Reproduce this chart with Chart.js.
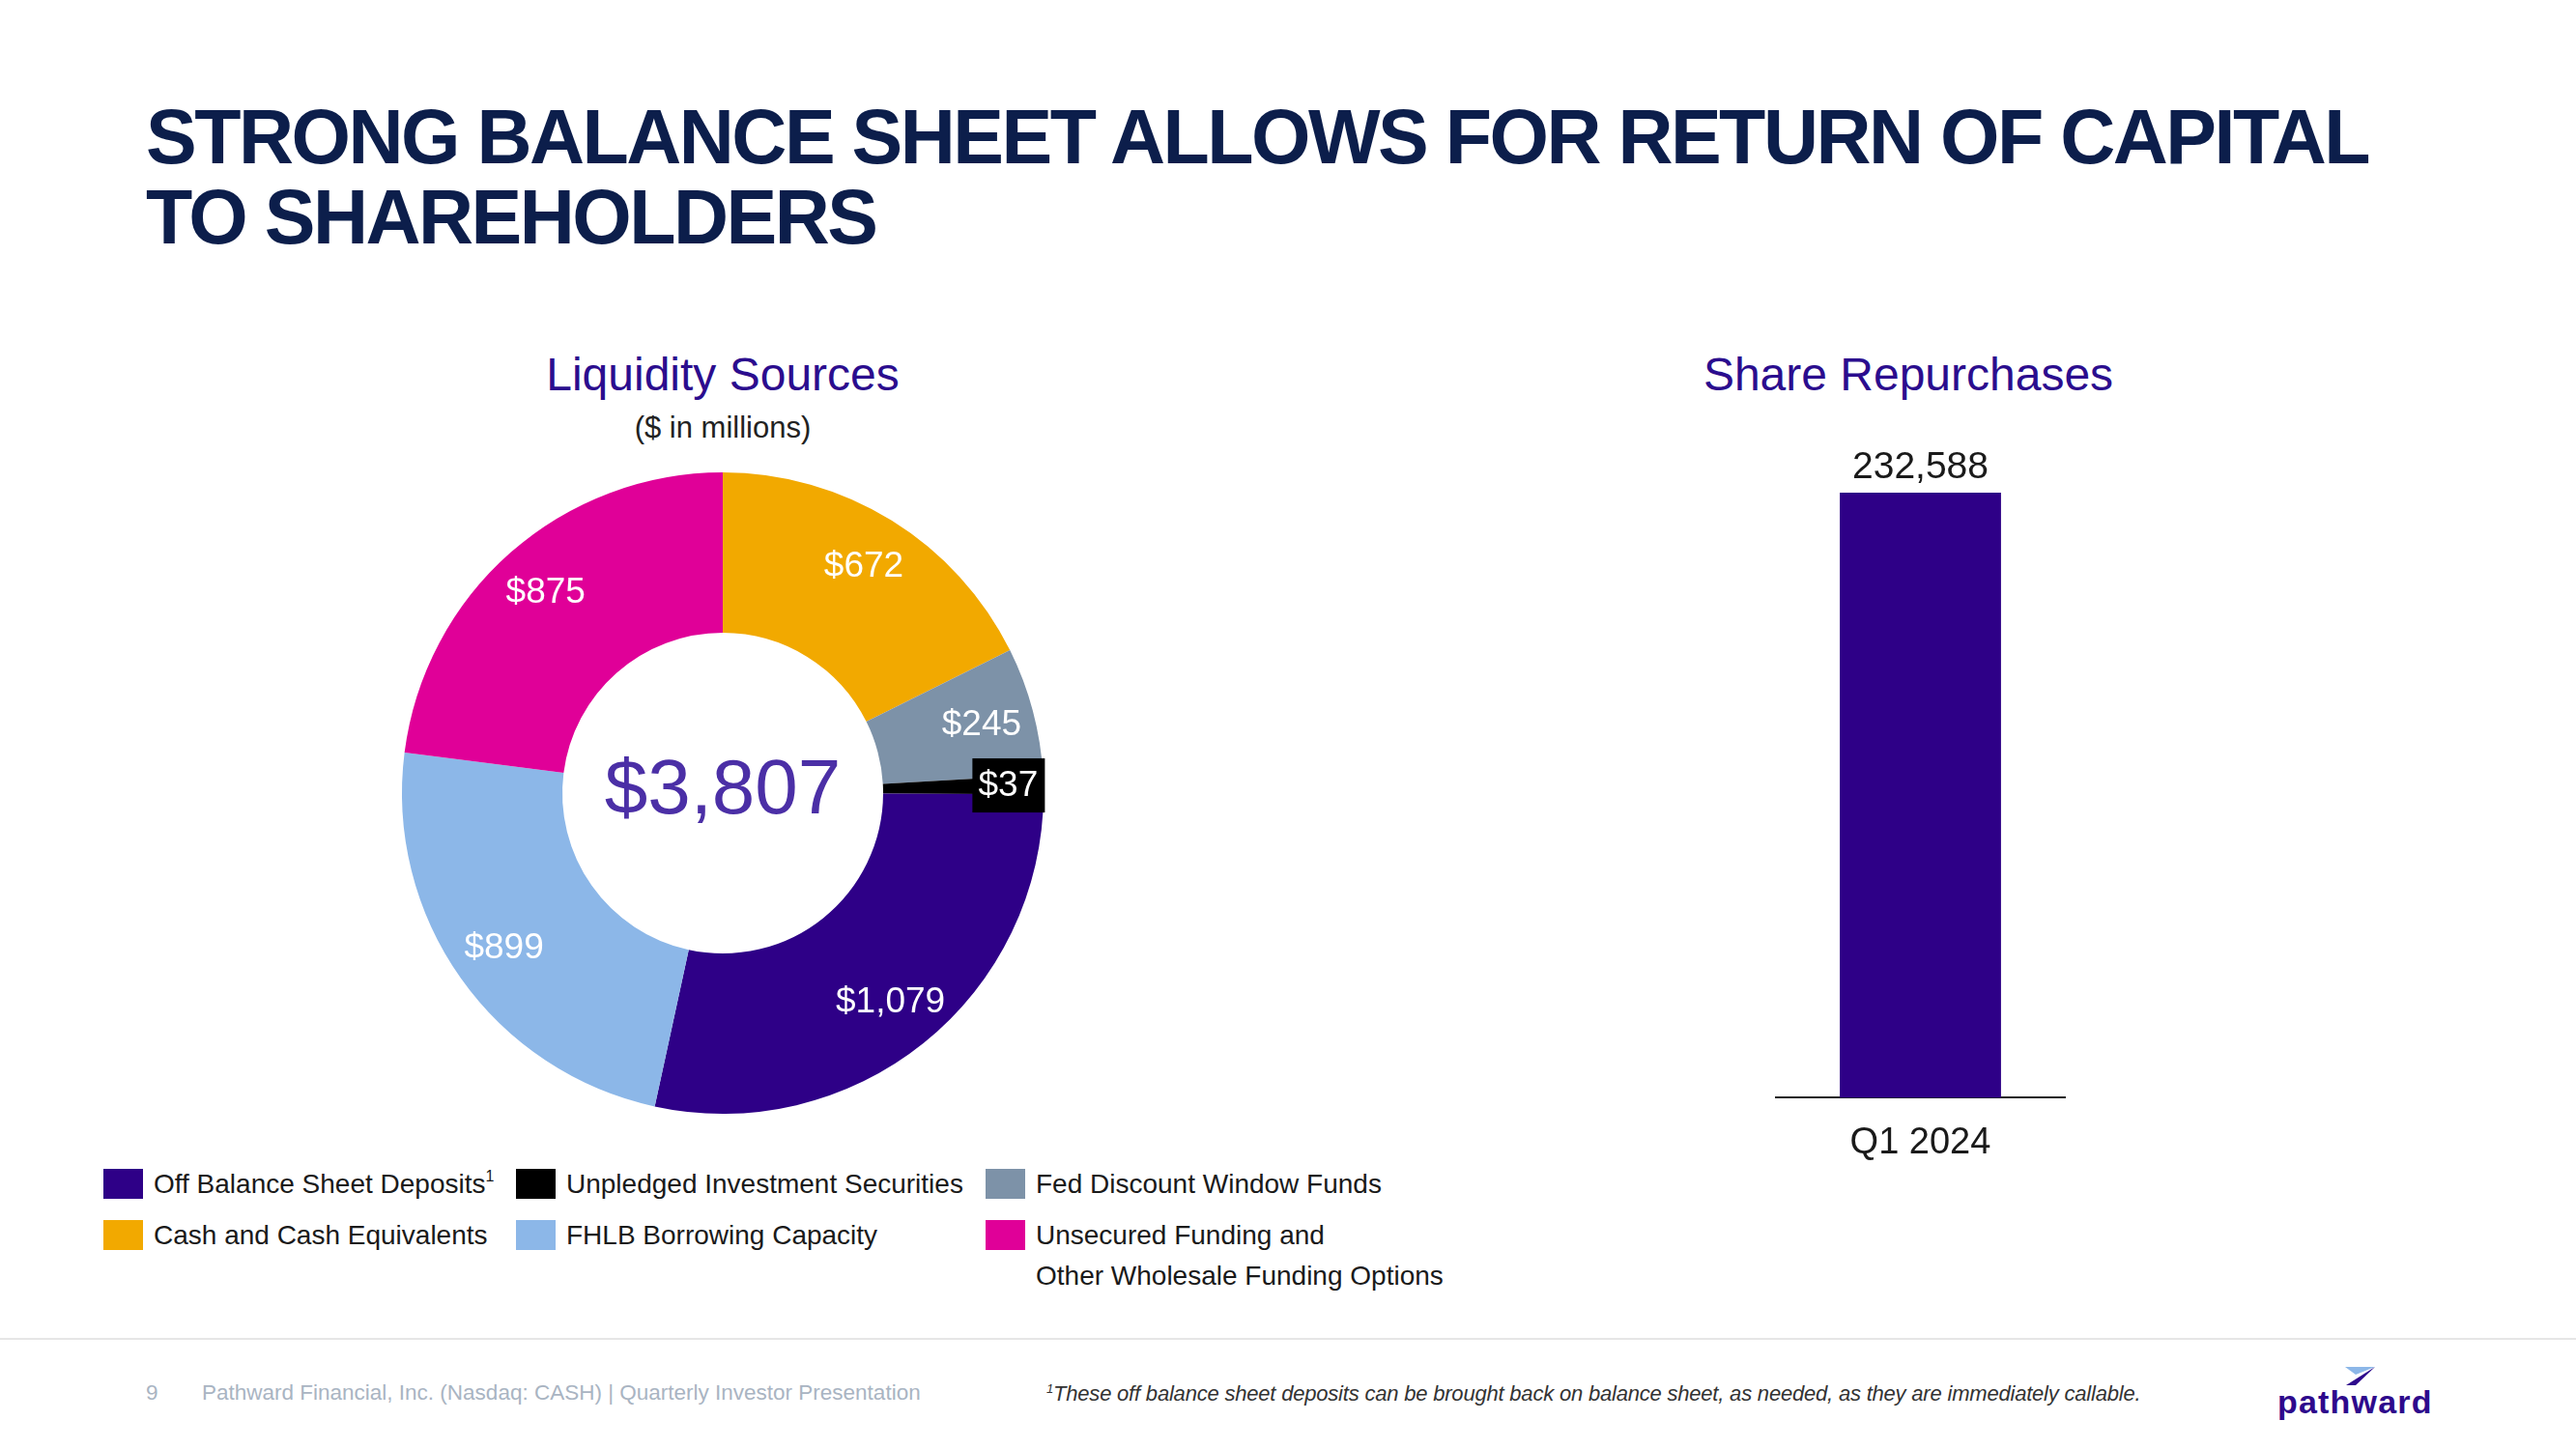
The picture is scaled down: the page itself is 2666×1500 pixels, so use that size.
<!DOCTYPE html>
<html lang="en">
<head>
  <meta charset="UTF-8" />
  <title>Strong Balance Sheet</title>
  <script src="https://cdn.jsdelivr.net/npm/chart.js"></script>
  <style>
    html, body { margin: 0; padding: 0; background: #fff; }
    body { width: 2666px; height: 1500px; position: relative; overflow: hidden;
           font-family: "Liberation Sans", Arial, Helvetica, sans-serif; }
    .abs { position: absolute; white-space: nowrap; }
    .title { left: 151px; top: 100px; font-size: 79px; line-height: 83px; font-weight: bold;
             color: #0c1e4b; letter-spacing: -2.5px; }
    .sub { width: 800px; text-align: center; line-height: 1; color: #2b0d8e; font-size: 48px; }
    .units { width: 800px; text-align: center; line-height: 1; color: #222; font-size: 31px; }
    #legend { position: absolute; left: 107px; top: 1205px; display: grid;
              grid-template-columns: 427px 486px 600px; row-gap: 11px; }
    .item { display: flex; align-items: flex-start; }
    .swatch { width: 41px; height: 31px; margin-top: 5px; margin-right: 11px; flex: none; }
    .ltext { font-size: 28px; line-height: 42px; color: #1a1a1a; white-space: pre-line; }
    .ltext sup { font-size: 16px; line-height: 0; vertical-align: 12px; }
    .rule { position: absolute; left: 0; top: 1385px; width: 2666px; height: 2px; background: #e6e6e6; }
    .foot { font-size: 22.5px; line-height: 1; color: #a9b4c2; }
    .note { font-size: 22px; line-height: 1; color: #333; font-style: italic; letter-spacing: -0.2px; }
    .logo { font-size: 34px; line-height: 1; color: #2e0a8c; font-weight: bold; letter-spacing: 1.2px; }
  </style>
</head>
<body>
  <div class="abs title">STRONG BALANCE SHEET ALLOWS FOR RETURN OF CAPITAL<br>TO SHAREHOLDERS</div>

  <div class="abs sub" style="left:348px; top:364px;">Liquidity Sources</div>
  <div class="abs units" style="left:348px; top:427px;">($ in millions)</div>
  <div class="abs sub" style="left:1575px; top:364px;">Share Repurchases</div>

  <canvas id="donut" class="abs" width="700" height="700" style="left:398px; top:471px;"></canvas>
  <canvas id="bars" class="abs" width="400" height="810" style="left:1788px; top:420px;"></canvas>

  <div id="legend"></div>

  <div class="rule"></div>
  <div class="abs foot" style="left:151px; top:1431px;">9</div>
  <div class="abs foot" style="left:209px; top:1431px;">Pathward Financial, Inc. (Nasdaq: CASH) | Quarterly Investor Presentation</div>
  <div class="abs note" style="left:1083px; top:1431px;"><sup style="font-size:13px;">1</sup>These off balance sheet deposits can be brought back on balance sheet, as needed, as they are immediately callable.</div>
  <svg class="abs" style="left:2420px; top:1410px;" width="45" height="28">
    <polygon points="7,5 38,5 18,13" fill="#8cb7e8" />
    <polygon points="38,5 8,24 18,24" fill="#2e0a8c" />
  </svg>
  <div class="abs logo" style="left:2357px; top:1434px;">pathward</div>

  <script>
    // liquidity sources, $ in millions, clockwise from 12 o'clock
    const sourceLabels = [
      'Cash and Cash Equivalents',
      'Fed Discount Window Funds',
      'Unpledged Investment Securities',
      'Off Balance Sheet Deposits',
      'FHLB Borrowing Capacity',
      'Unsecured Funding and\nOther Wholesale Funding Options'
    ];
    const sourceValues = [672, 245, 37, 1079, 899, 875];
    const sourceColors = ['#f2a900', '#7d92a8', '#000000', '#2e0087', '#8cb7e8', '#e00098'];
    const sourceNotes = ['', '', '', '1', '', ''];
    // legend reads row by row in this order
    const legendOrder = [3, 2, 1, 0, 4, 5];

    // share repurchases
    const quarters = ['Q1 2024'];
    const sharesRepurchased = [232588];

    const fmt = (v) => v.toLocaleString('en-US');
    const FONT = '"Liberation Sans", Arial, sans-serif';

    // legend
    const legendEl = document.getElementById('legend');
    legendOrder.forEach((i) => {
      const item = document.createElement('div');
      item.className = 'item';
      const sw = document.createElement('div');
      sw.className = 'swatch';
      sw.style.background = sourceColors[i];
      const txt = document.createElement('div');
      txt.className = 'ltext';
      txt.textContent = sourceLabels[i];
      if (sourceNotes[i]) {
        const s = document.createElement('sup');
        s.textContent = sourceNotes[i];
        txt.appendChild(s);
      }
      item.appendChild(sw);
      item.appendChild(txt);
      legendEl.appendChild(item);
    });

    const donutLabels = {
      id: 'donutLabels',
      afterDatasetsDraw(chart) {
        const ctx = chart.ctx;
        const meta = chart.getDatasetMeta(0);
        const total = sourceValues.reduce((a, b) => a + b, 0);
        ctx.save();
        ctx.textAlign = 'center';
        ctx.textBaseline = 'middle';
        meta.data.forEach((arc, i) => {
          const p = arc.getProps(['x', 'y', 'startAngle', 'endAngle', 'innerRadius', 'outerRadius'], true);
          const mid = (p.startAngle + p.endAngle) / 2;
          const small = sourceValues[i] / total < 0.02;
          const r = p.innerRadius + (p.outerRadius - p.innerRadius) * (small ? 0.78 : 0.67);
          const x = p.x + r * Math.cos(mid);
          const y = p.y + r * Math.sin(mid);
          const text = '$' + fmt(sourceValues[i]);
          ctx.font = '37px ' + FONT;
          if (small) {
            ctx.fillStyle = '#000';
            ctx.fillRect(x - 37, y - 28, 75, 56);
          }
          ctx.fillStyle = '#fff';
          ctx.fillText(text, x, y + 1);
        });
        // total in the hole
        const c = meta.data[0];
        ctx.font = '80px ' + FONT;
        ctx.fillStyle = '#4b2fa6';
        ctx.fillText('$' + fmt(total), c.x, c.y - 1);
        ctx.restore();
      }
    };

    new Chart(document.getElementById('donut'), {
      type: 'doughnut',
      data: {
        labels: sourceLabels,
        datasets: [{
          data: sourceValues,
          backgroundColor: sourceColors,
          borderWidth: 0
        }]
      },
      options: {
        responsive: false,
        animation: false,
        cutout: '50%',
        layout: { padding: 18 },
        plugins: {
          legend: { display: false },
          tooltip: { enabled: false }
        }
      },
      plugins: [donutLabels]
    });

    const barLabels = {
      id: 'barLabels',
      afterDatasetsDraw(chart) {
        const ctx = chart.ctx;
        ctx.save();
        ctx.font = '39px ' + FONT;
        ctx.fillStyle = '#1a1a1a';
        ctx.textAlign = 'center';
        ctx.textBaseline = 'alphabetic';
        chart.getDatasetMeta(0).data.forEach((bar, i) => {
          ctx.fillText(fmt(sharesRepurchased[i]), bar.x, bar.y - 15);
        });
        ctx.restore();
      }
    };

    new Chart(document.getElementById('bars'), {
      type: 'bar',
      data: {
        labels: quarters,
        datasets: [{
          data: sharesRepurchased,
          backgroundColor: '#2e0087',
          categoryPercentage: 1,
          barPercentage: 0.558
        }]
      },
      options: {
        responsive: false,
        animation: false,
        layout: { padding: { top: 90, left: 50, right: 51, bottom: 0 } },
        scales: {
          x: {
            grid: { display: false, drawTicks: false },
            border: { display: true, color: '#222', width: 2 },
            ticks: { color: '#1a1a1a', padding: 24, font: { size: 38, family: FONT } }
          },
          y: { display: false, min: 0, max: Math.max(...sharesRepurchased) }
        },
        plugins: {
          legend: { display: false },
          tooltip: { enabled: false }
        }
      },
      plugins: [barLabels]
    });
  </script>
</body>
</html>
